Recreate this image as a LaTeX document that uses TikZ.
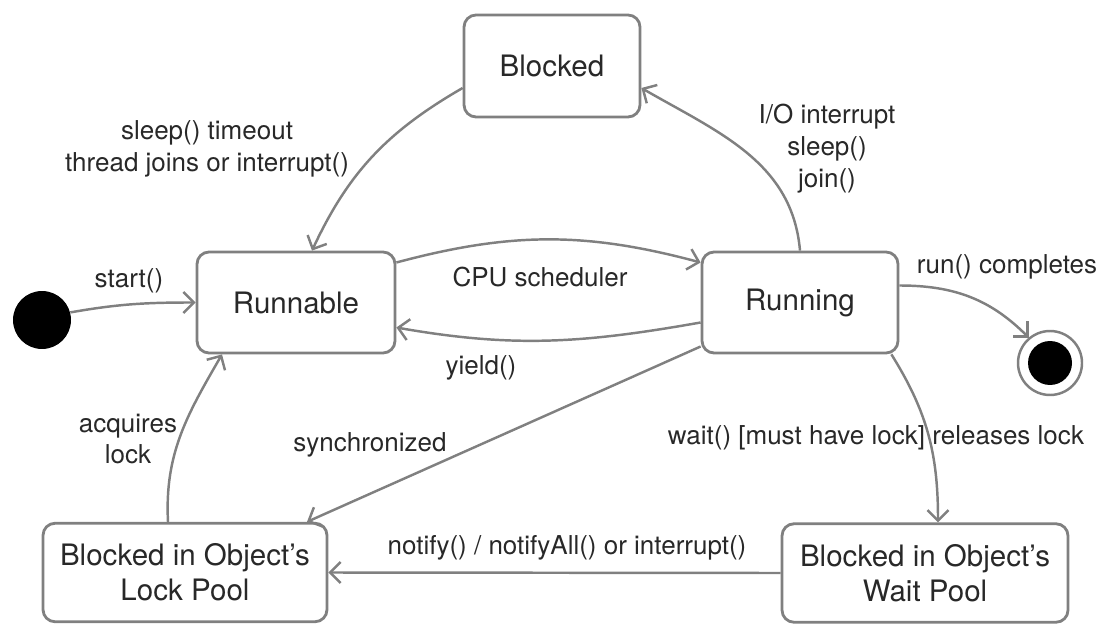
\documentclass[tikz,border=0pt]{standalone}
\usepackage{fontspec}
\setmainfont{TeX Gyre Heros}
\usepackage{tikz}
\usetikzlibrary{calc,arrows.meta}

\definecolor{edgegray}{RGB}{128,128,128}
\definecolor{textgray}{RGB}{40,40,40}

\begin{document}
\begin{tikzpicture}[x=0.02cm,y=0.02cm,
	state/.style={draw=edgegray,line width=1.6pt,rounded corners=0.24cm,fill=white,
		align=center,text=textgray,font=\fontsize{16.8}{19.9}\selectfont,inner sep=0pt},
	trans/.style={draw=edgegray,line width=1.4pt,-{Straight Barb[length=6pt,width=12pt]}},
	lbl/.style={text=textgray,align=center,font=\fontsize{14.8}{18.2}\selectfont,inner sep=0pt}]
	\newcommand{\stateHeight}{2.02cm}
	\newcommand{\poolHeight}{1.97cm}

	\useasboundingbox (0,0) rectangle (1104,-624);

	% states
	\node (blocked) [state,minimum width=3.52cm,minimum height=2.04cm] at (552,-66) {Blocked};
	\node (runnable) [state,minimum width=3.96cm,minimum height=\stateHeight] at (296,-302.5) {Runnable};
	\node (running) [state,minimum width=3.92cm,minimum height=\stateHeight] at (800,-302.5) {Running};
	\node (lockpool) [state,minimum width=5.68cm,minimum height=\poolHeight] at (185,-572.5)
		{Blocked in Object's\\Lock Pool};
	\node (waitpool) [state,minimum width=5.72cm,minimum height=\poolHeight] at (925,-573)
		{Blocked in Object's\\Wait Pool};

	% initial and final
	\node (init) [circle,fill=black,minimum size=1.16cm,inner sep=0pt] at (42,-320) {};
	\node (final) [circle,draw=edgegray,line width=1.4pt,minimum size=1.28cm,inner sep=0pt] at (1050,-363) {};
	\node (finaldot) [circle,fill=black,minimum size=0.88cm,inner sep=0pt] at (final) {};

	% transitions
	\draw[trans] (init.15) to[out=10,in=180] (runnable.west);
	\draw[trans] ($(blocked.west)+(0,-22)$) to[out=210,in=65] ($(runnable.north)+(16,0)$);
	\draw[trans] (running.north) to[out=95,in=-30] ($(blocked.east)+(0,-22)$);
	\draw[trans] ($(runnable.east)+(0,40)$) to[out=15,in=165] ($(running.west)+(0,40)$);
	\draw[trans] ($(running.west)+(0,-20)$) to[out=190,in=-10] ($(runnable.east)+(0,-25)$);
	\draw[trans] ($(running.west)+(0,-44)$) -- ($(lockpool.north)+(122,0)$);
	\draw[trans] ($(lockpool.north)+(-17,0)$) to[out=93,in=240] ($(runnable.south)+(-74,0)$);
	\draw[trans] ($(running.south east)+(-8,0)$) to[out=-58,in=90] ($(waitpool.north)+(13,0)$);
	\draw[trans] (waitpool.west) -- (lockpool.east);
	\draw[trans] ($(running.east)+(0,17)$) to[out=0,in=135] (final.130);

	% labels
	\node (lstart) [lbl] at (129,-281) {start()};
	\node (lwake) [lbl] at (207,-149) {sleep() timeout\\thread joins or interrupt()};
	\node (lio) [lbl] at (827,-149) {I/O interrupt\\sleep()\\join()};
	\node (lcpu) [lbl] at (540,-277) {CPU scheduler};
	\node (lyield) [lbl] at (481,-368) {yield()};
	\node (ldone) [lbl] at (1007,-267) {run() completes};
	\node (lacq) [lbl] at (128,-439) {acquires\\lock};
	\node (lsync) [lbl] at (370,-445) {synchronized};
	\node (lwait) [lbl] at (876,-438) {wait() [must have lock] releases lock};
	\node (lnotify) [lbl] at (567,-548) {notify() / notifyAll() or interrupt()};
\end{tikzpicture}
\end{document}
